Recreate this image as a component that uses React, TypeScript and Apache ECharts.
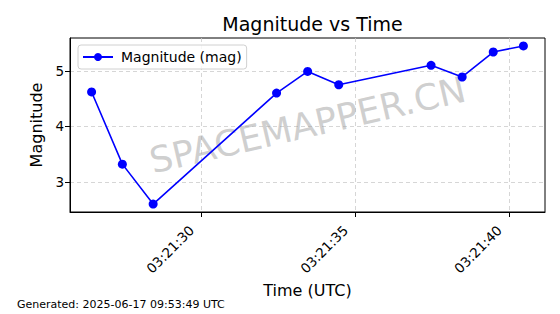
import React, { useEffect, useRef } from "react";
import * as echarts from "echarts";

// Observation times (UTC, 03:21:SS.s) and magnitudes
const times = ["03:21:26.43", "03:21:27.43", "03:21:28.43", "03:21:32.44", "03:21:33.45", "03:21:34.46", "03:21:37.46", "03:21:38.47", "03:21:39.48", "03:21:40.46"];
const magnitudes = [4.62, 3.32, 2.6, 4.6, 4.99, 4.75, 5.1, 4.89, 5.34, 5.45];
const xTicks = [30, 35, 40];
const yTicks = [3, 4, 5];
const generatedText = "Generated: 2025-06-17 09:53:49 UTC";
const watermark = "SPACEMAPPER.CN";

const toSec = (t: string) => {
  const [h, m, s] = t.split(":");
  return (parseFloat(h) * 3600 + parseFloat(m) * 60 + parseFloat(s)) - (3 * 3600 + 21 * 60);
};
const pad = (n: number) => (n < 10 ? "0" + n : "" + n);
const fmt = (v: number) => {
  const total = 3 * 3600 + 21 * 60 + Math.round(v);
  const h = Math.floor(total / 3600);
  const m = Math.floor((total % 3600) / 60);
  const s = total % 60;
  return `${pad(h)}:${pad(m)}:${pad(s)}`;
};

export default function App() {
  const ref = useRef<HTMLDivElement>(null);
  useEffect(() => {
    if (!ref.current) return;
    const chart = echarts.init(ref.current, undefined, { renderer: "svg" });
    const xs = times.map(toSec);
    const xMin = Math.min(...xs), xMax = Math.max(...xs);
    const yMin = Math.min(...magnitudes), yMax = Math.max(...magnitudes);
    const xm = (xMax - xMin) * 0.05, ym = (yMax - yMin) * 0.05;
    const font = "DejaVu Sans";
    chart.setOption({
      animation: false,
      textStyle: { fontFamily: font },
      title: {
        text: "Magnitude vs Time",
        left: 307.5,
        textAlign: "center",
        top: 9,
        textStyle: { fontFamily: font, fontSize: 19, fontWeight: "normal", color: "#000" },
      },
      grid: { left: 70, right: 15, top: 38, bottom: 102, containLabel: false, show: true, borderColor: "#000", borderWidth: 1, backgroundColor: "transparent" },
      legend: {
        left: 78,
        top: 45,
        padding: [5, 5, 5, 4],
        itemWidth: 30,
        itemHeight: 10,
        borderColor: "#d0d0d0",
        borderWidth: 1,
        borderRadius: 3,
        backgroundColor: "rgba(255,255,255,0.8)",
        textStyle: { fontFamily: font, fontSize: 14, color: "#000", padding: [0, 0, 0, 3] },
        data: ["Magnitude (mag)"],
      },
      graphic: [
        {
          type: "text",
          x: 307.5,
          y: 125,
          rotation: (13 * Math.PI) / 180,
          z: 1,
          style: {
            text: watermark,
            fontFamily: font,
            fontSize: 36,
            fill: "rgba(160,160,160,0.5)",
            textAlign: "center",
            textVerticalAlign: "middle",
          },
        },
        {
          type: "text",
          left: 17,
          top: 299,
          style: { text: generatedText, fontFamily: font, fontSize: 11, fill: "#000" },
        },
      ],
      xAxis: {
        type: "value",
        min: xMin - xm,
        max: xMax + xm,
        name: "Time (UTC)",
        nameLocation: "middle",
        nameGap: 70,
        nameMoveOverlap: false,
        nameTextStyle: { fontFamily: font, fontSize: 16, color: "#000" },
        axisLine: { onZero: false, lineStyle: { color: "#000", width: 1 } },
        axisTick: { show: true, length: 5, customValues: xTicks, lineStyle: { color: "#000" } },
        axisLabel: {
          customValues: xTicks,
          rotate: 45,
          formatter: (v: number) => fmt(v),
          fontFamily: font,
          fontSize: 13.5,
          color: "#000",
          margin: 6,
          padding: [0, 14, 0, 0],
        },
        splitLine: { show: true, lineStyle: { color: "#cccccc", type: [4, 3], width: 0.8 } },
      },
      yAxis: {
        type: "value",
        min: yMin - ym,
        max: yMax + ym,
        name: "Magnitude",
        nameLocation: "middle",
        nameGap: 26,
        nameMoveOverlap: false,
        nameTextStyle: { fontFamily: font, fontSize: 16, color: "#000" },
        axisLine: { show: true, lineStyle: { color: "#000", width: 1 } },
        axisTick: { show: true, length: 5, customValues: yTicks, lineStyle: { color: "#000" } },
        axisLabel: {
          customValues: yTicks,
          fontFamily: font,
          fontSize: 13.5,
          color: "#000",
          margin: 6,
        },
        splitLine: { show: true, lineStyle: { color: "#cccccc", type: [4, 3], width: 0.8 } },
      },
      series: [
        {
          name: "Magnitude (mag)",
          type: "line",
          data: xs.map((x, i) => [x, magnitudes[i]]),
          symbol: "circle",
          symbolSize: 9,
          z: 3,
          lineStyle: { color: "#0000ff", width: 1.6 },
          itemStyle: { color: "#0000ff" },
        },
      ],
    });
    return () => chart.dispose();
  }, []);
  return <div ref={ref} style={{ width: 560, height: 314, position: "absolute", left: 0, top: 0 }} />;
}
